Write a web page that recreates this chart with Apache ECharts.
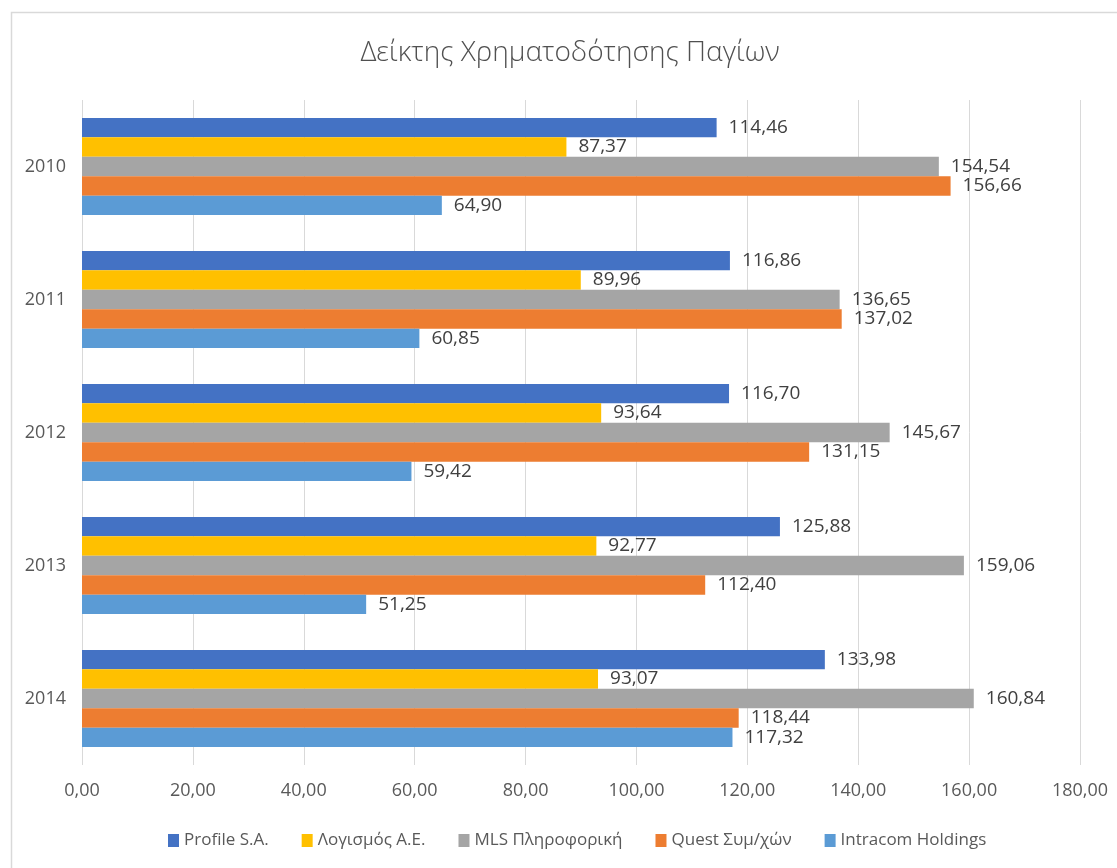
<!DOCTYPE html>
<html>
<head>
<meta charset="utf-8">
<script src="https://cdn.jsdelivr.net/npm/echarts@6/dist/echarts.min.js"></script>
<style>html,body{margin:0;padding:0;background:#fff;}#c{width:1117px;height:868px;}</style>
</head>
<body>
<div id="c"></div>
<script>
const titleText = 'Δείκτης Χρηματοδότησης Παγίων';
const categories = ['2010', '2011', '2012', '2013', '2014'];
const seriesNames = ['Profile S.A.', 'Λογισμός Α.Ε.', 'MLS Πληροφορική', 'Quest Συμ/χών', 'Intracom Holdings'];
const profile = [114.46, 116.86, 116.70, 125.88, 133.98];
const logismos = [87.37, 89.96, 93.64, 92.77, 93.07];
const mls = [154.54, 136.65, 145.67, 159.06, 160.84];
const quest = [156.66, 137.02, 131.15, 112.40, 118.44];
const intracom = [64.90, 60.85, 59.42, 51.25, 117.32];
const colors = ['#4472C4', '#FFC000', '#A5A5A5', '#ED7D31', '#5B9BD5'];
const xMin = 0, xMax = 180, xStep = 20;

const fmt = v => Number(v).toFixed(2).replace('.', ',');
const FONT = '"Open Sans", "Noto Sans", sans-serif';
const values = [profile, logismos, mls, quest, intracom];

const chart = echarts.init(document.getElementById('c'), null, {renderer: 'canvas'});
chart.setOption({
  backgroundColor: '#fff',
  animation: false,
  graphic: [{
    type: 'rect', left: 9, top: 10, silent: true,
    shape: {x: 0, y: 0, width: 1300, height: 1000},
    style: {fill: 'none', stroke: '#d9d9d9', lineWidth: 1.5}
  }, {
    type: 'text', x: 570, y: 53, silent: true,
    style: {text: titleText, textAlign: 'center', textVerticalAlign: 'middle',
      fontFamily: FONT, fontWeight: 300, fontSize: 28, fill: '#505050'}
  }],
  legend: {
    bottom: 14, left: 163, icon: 'rect', itemWidth: 11, itemHeight: 13, itemGap: 33,
    textStyle: {fontFamily: FONT, fontSize: 17, color: '#595959'},
    data: seriesNames
  },
  grid: {left: 82, right: 37, top: 100, bottom: 103, containLabel: false},
  xAxis: {
    type: 'value', min: xMin, max: xMax, interval: xStep,
    axisLine: {show: false}, axisTick: {show: false},
    splitLine: {lineStyle: {color: '#d9d9d9', width: 1}},
    axisLabel: {formatter: fmt, color: '#595959', fontFamily: FONT, fontSize: 18, margin: 17}
  },
  yAxis: {
    type: 'category', data: categories, inverse: true,
    axisLine: {show: false}, axisTick: {show: false},
    axisLabel: {color: '#595959', fontFamily: FONT, fontSize: 18, margin: 16}
  },
  series: seriesNames.map((n, i) => ({
    name: n, type: 'bar', data: values[i],
    barGap: '0%', barCategoryGap: '27%',
    itemStyle: {color: colors[i]},
    label: {show: true, position: 'right', distance: 12, formatter: p => fmt(p.value),
      color: '#404040', fontFamily: FONT, fontSize: 19}
  }))
});
</script>
</body>
</html>
